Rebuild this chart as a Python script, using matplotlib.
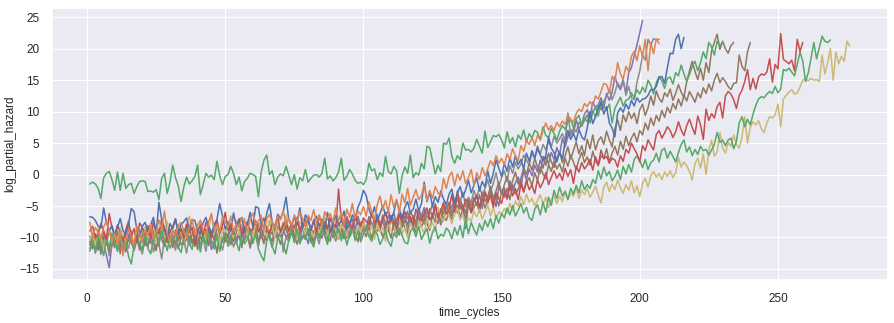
import numpy as np
import matplotlib
matplotlib.use('Agg')
import matplotlib.pyplot as plt
import seaborn as sns

# log partial hazard per engine, one value per time cycle (starting at cycle 1)
blue = [
    -6.7, -6.8, -7.3, -8.2, -8.5, -5.3, -7.6, -8.9, -8.1, -9.6,
    -8.4, -7.0, -8.9, -9.6, -7.9, -5.4, -5.9, -8.7, -9.8, -8.2,
    -7.6, -9.1, -8.0, -6.8, -9.4, -4.4, -7.2, -8.5, -9.9, -7.8,
    -8.6, -7.1, -9.3, -8.0, -7.5, -6.9, -8.8, -7.2, -7.3, -8.9,
    -9.5, -7.7, -6.8, -8.3, -9.4, -8.0, -7.1, -4.6, -6.6, -8.7,
    -7.5, -9.0, -6.1, -8.2, -7.4, -6.8, -9.1, -7.9, -6.0, -8.4,
    -5.1, -5.3, -7.8, -8.6, -6.2, -4.6, -7.6, -8.4, -6.3, -7.0,
    -5.9, -3.6, -7.2, -8.1, -6.9, -7.7, -5.3, -8.5, -6.4, -7.3,
    -8.9, -7.5, -6.6, -8.2, -7.1, -8.8, -6.0, -9.2, -7.7, -6.5,
    -8.0, -7.4, -5.8, -8.6, -7.9, -6.4, -7.1, -5.2, -4.2, -2.5,
    -3.3, -5.5, -6.7, -5.1, -7.4, -6.2, -4.9, -6.5, -5.7, -7.3,
    -6.0, -4.1, -5.6, -6.9, -5.2, -4.3, -6.1, -5.5, -3.9, -5.8,
    -4.6, -1.2, -4.3, -2.8, -5.0, -3.5, -4.4, -2.6, -3.9, -4.8,
    -3.1, -2.3, -4.5, -3.0, -1.9, -3.6, -2.4, -0.9, -2.9, -1.7,
    -0.5, -2.6, -1.1, -2.0, 0.6, -1.4, 0.2, 2.3, 1.0, -0.3,
    1.8, 0.5, 2.7, 1.2, 3.0, 1.6, 2.4, 0.9, 3.4, 2.1,
    3.8, 2.6, 4.5, 3.1, 2.2, 3.0, 6.0, 4.2, 3.5, 2.0,
    3.6, 2.5, 5.2, 7.0, 5.6, 6.5, 5.4, 7.2, 6.0, 5.5,
    7.4, 10.0, 8.1, 9.2, 10.5, 11.5, 9.6, 10.8, 8.2, 7.4,
    6.0, 9.8, 10.6, 9.9, 11.2, 10.4, 11.8, 10.9, 12.2, 11.5,
    12.0, 12.1, 12.6, 13.5, 13.5, 14.0, 15.4, 15.6, 14.5, 17.0,
    19.3, 19.2, 21.5, 22.3, 20.0, 21.8,
]

orange = [
    -7.6, -9.8, -8.4, -9.2, -10.1, -8.3, -7.4, -8.9, -10.6, -9.3,
    -11.2, -9.0, -12.9, -10.4, -8.7, -9.9, -11.0, -8.2, -9.6, -10.5,
    -8.8, -9.7, -7.9, -10.3, -9.1, -7.2, -8.6, -5.8, -9.4, -10.8,
    -8.7, -9.9, -8.1, -7.6, -9.0, -10.2, -8.3, -7.1, -9.5, -8.0,
    -7.3, -8.8, -9.6, -7.5, -6.2, -8.7, -7.9, -9.1, -6.8, -7.4,
    -8.5, -6.6, -9.2, -7.8, -8.3, -6.9, -7.5, -9.0, -7.2, -6.1,
    -8.0, -7.4, -6.5, -8.9, -7.1, -6.3, -7.7, -8.4, -6.6, -7.2,
    -5.8, -7.9, -6.9, -8.1, -6.4, -7.5, -5.9, -7.0, -8.2, -6.5,
    -7.3, -5.6, -7.8, -6.4, -8.3, -5.9, -7.1, -6.2, -7.6, -5.3,
    -7.4, -6.0, -8.1, -5.5, -6.8, -4.6, -7.0, -5.8, -6.4, -5.1,
    -6.6, -4.3, -5.9, -7.2, -4.8, -3.4, -5.6, -4.1, -6.0, -3.2,
    -5.2, -3.9, -6.1, -3.1, -4.5, -2.2, -4.9, -3.6, -2.4, -4.0,
    -3.3, -1.6, -4.1, -2.5, -3.8, -1.9, -2.9, -3.5, -0.6, -2.2,
    -0.3, 0.4, -1.8, 0.1, -0.9, 0.6, -1.4, -0.5, 0.8, -1.7,
    0.3, -0.8, 1.1, -0.2, 0.9, 2.2, 1.4, 3.0, 1.8, 2.6,
    1.5, 3.3, 2.4, 4.1, 3.0, 2.2, 4.6, 3.7, 5.4, 4.8,
    5.9, 4.6, 6.3, 5.5, 7.0, 8.2, 7.1, 7.8, 7.0, 8.3,
    7.6, 8.5, 8.0, 9.4, 8.8, 8.3, 9.7, 10.4, 10.0, 11.3,
    10.8, 11.6, 11.0, 12.5, 12.0, 13.2, 14.5, 14.3, 13.0, 15.6,
    14.8, 17.8, 16.0, 15.2, 17.2, 16.4, 18.8, 19.6, 18.1, 20.5,
    18.7, 21.5, 16.5, 21.0, 19.2, 21.6, 20.8,
]

green_high = [
    -1.5, -1.2, -1.5, -2.2, -3.8, -0.5, 0.2, 0.5, -0.8, -2.5,
    0.4, -2.5, 0.2, -2.2, -1.6, -1.4, -3.0, -1.9, -1.1, -1.0,
    -1.1, -2.7, -2.6, -2.8, -2.4, -4.0, -0.6, 0.2, -3.0, -1.2,
    1.5, -0.5, -1.8, -4.3, -2.0, -0.4, -1.5, -1.0, -0.3, 1.5,
    -3.2, -1.6, 0.2, -0.4, -0.1, -0.8, 2.1, -0.2, -1.6, -0.3,
    0.0, 1.3, 0.2, -1.6, -0.4, -2.6, -1.1, -0.6, 0.2, 0.0,
    -0.3, -3.5, 0.4, 2.3, 3.1, 0.0, 0.6, -1.6, -0.4, 0.1,
    -0.2, 1.3, -0.1, -1.6, 0.0, -2.3, -0.5, -1.0, 0.8, -1.2,
    -0.6, -0.1, 0.0, -0.4, 0.2, 2.6, -0.7, -0.2, -1.0, -0.5,
    0.4, 2.6, -0.9, -0.3, 0.8, 0.1, -0.9, -1.4, -1.2, -1.6,
    -0.8, 1.8, 0.6, 0.9, -0.8, 0.3, -0.3, 2.9, 0.5, 0.1,
    1.3, 0.6, -3.0, -0.2, 1.2, 0.2, 3.1, -0.5, 0.3, -0.1,
    1.8, 0.9, 4.5, 4.3, 2.2, 0.1, 1.5, 0.5, 5.0, 4.8,
    5.8, 2.9, 1.8, 3.0, 2.4, 5.0, 3.9, 4.0, 3.6, 4.2,
    5.6, 4.5, 3.4, 6.9, 4.3, 5.2, 6.2, 6.0, 6.4, 5.5,
    4.2, 6.8, 5.0, 5.9, 4.4, 6.3, 5.6, 7.1, 5.2, 6.5,
    5.8, 7.0, 6.7, 5.5, 7.6, 6.2, 5.9, 7.3, 6.5, 5.5,
    6.9, 7.8, 7.2, 8.4, 8.7, 7.5, 8.9, 9.4, 7.7, 8.6,
    9.5, 8.2, 9.9, 10.7, 9.3, 11.6, 10.8, 10.3, 11.2, 8.2,
    10.5, 11.4, 12.3, 10.9, 11.8, 12.0, 13.0, 12.2, 13.5, 12.8,
    13.9, 13.1, 15.0, 14.2, 12.8, 14.6, 15.6, 14.9, 13.7, 15.3,
    15.5, 14.4, 16.2, 15.7, 17.4, 16.0, 14.8, 15.9, 17.2, 18.0,
    16.5, 17.8, 19.5, 18.4, 21.0, 20.3, 19.0, 21.2, 20.5, 21.0,
]

red = [
    -9.0, -8.2, -10.1, -9.4, -7.8, -8.9, -10.3, -6.2, -8.5, -9.7,
    -8.0, -9.3, -10.6, -8.8, -7.4, -9.9, -8.6, -10.8, -7.7, -8.4,
    -9.6, -8.1, -10.0, -7.5, -8.9, -9.4, -7.1, -8.7, -10.2, -9.0,
    -8.3, -7.0, -9.5, -8.6, -10.1, -7.9, -9.2, -8.4, -11.4, -9.1,
    -8.0, -9.7, -7.6, -8.8, -10.0, -8.5, -7.2, -9.3, -8.1, -6.0,
    -8.9, -7.8, -9.4, -8.2, -7.0, -9.6, -8.4, -7.5, -9.0, -8.6,
    -7.3, -9.1, -8.0, -6.9, -8.7, -9.5, -7.8, -8.3, -6.6, -9.2,
    -8.1, -7.4, -9.0, -7.7, -8.5, -6.8, -8.9, -7.6, -8.2, -7.0,
    -8.8, -7.2, -9.3, -6.5, -8.0, -7.5, -8.7, -6.9, -7.8, -8.4,
    -2.3, -7.3, -8.2, -6.7, -7.9, -8.5, -6.4, -7.6, -8.1, -6.9,
    -7.4, -8.0, -6.2, -7.7, -6.8, -8.3, -7.1, -6.0, -7.9, -6.5,
    -7.2, -8.6, -6.4, -7.5, -5.9, -7.0, -6.7, -8.1, -5.5, -6.8,
    -7.4, -6.1, -5.3, -7.2, -6.6, -5.0, -6.9, -5.8, -4.4, -6.3,
    -5.5, -3.1, -5.9, -2.6, -4.8, -5.7, -3.9, -4.6, -6.0, -4.2,
    -3.5, -5.1, -4.0, -2.8, -4.5, -3.3, -5.2, -2.9, -3.8, -4.6,
    -2.6, -3.9, -1.8, -3.4, -2.2, -4.0, -1.5, -2.8, -0.9, -2.4,
    -1.7, -3.0, -0.8, -2.1, -1.2, 0.3, -1.6, -0.4, 0.6, -0.6,
    0.2, -0.9, 1.0, -0.3, 0.8, -1.4, 1.3, 0.4, 1.9, 0.9,
    1.5, 2.4, 0.7, 2.8, 1.6, 3.9, 2.5, 2.9, 1.8, 2.6,
    2.3, 1.2, 3.0, 2.1, 4.0, 3.4, 5.0, 4.1, 3.3, 2.0,
    4.6, 3.8, 5.5, 4.7, 3.9, 6.4, 7.0, 5.8, 6.6, 7.6,
    7.0, 5.9, 6.8, 8.4, 7.1, 6.2, 7.8, 8.8, 7.5, 6.4,
    9.3, 7.9, 5.6, 10.4, 8.6, 9.7, 9.0, 10.8, 11.5, 9.0,
    12.5, 13.2, 12.8, 11.9, 10.5, 12.6, 13.4, 14.8, 16.7, 13.5,
    15.3, 13.6, 15.5, 16.0, 15.8, 16.3, 18.4, 14.7, 17.5, 16.8,
    22.4, 18.3, 18.0, 17.6, 18.2, 16.5, 21.5, 19.6, 21.0,
]

purple = [
    -9.8, -11.4, -10.2, -12.0, -9.6, -11.1, -12.8, -14.8, -11.0, -10.4,
    -9.2, -11.6, -10.0, -12.3, -9.5, -10.8, -11.9, -9.9, -8.8, -10.5,
    -11.3, -9.6, -10.9, -8.9, -11.7, -10.1, -9.3, -11.0, -10.3, -8.7,
    -10.6, -9.4, -11.8, -10.0, -8.6, -9.8, -11.2, -9.1, -10.4, -9.7,
    -11.5, -8.9, -10.2, -9.5, -11.9, -10.6, -8.3, -9.9, -10.8, -9.0,
    -10.1, -8.5, -9.6, -11.0, -9.3, -8.0, -10.4, -9.1, -8.7, -10.0,
    -9.2, -11.3, -8.4, -9.8, -10.5, -8.8, -9.5, -7.9, -10.2, -9.0,
    -8.6, -10.0, -9.3, -7.8, -9.7, -8.9, -10.8, -8.2, -9.4, -11.0,
    -8.7, -9.6, -8.0, -10.1, -8.8, -7.5, -9.3, -8.4, -10.0, -7.9,
    -9.1, -8.3, -7.2, -9.5, -8.0, -7.0, -8.8, -6.6, -8.2, -7.4,
    -8.9, -6.8, -7.7, -8.5, -6.3, -7.9, -7.0, -8.6, -6.5, -7.3,
    -6.1, -7.8, -5.6, -7.0, -6.6, -8.1, -5.9, -6.8, -7.5, -5.4,
    -6.7, -5.2, -7.3, -6.0, -4.8, -6.5, -7.8, -5.5, -6.2, -4.9,
    -6.4, -5.0, -4.3, -6.1, -3.8, -5.3, -8.6, -4.5, -5.8, -3.6,
    -4.9, -3.2, -5.4, -2.7, -4.0, -2.3, -3.5, -5.1, -1.9, -3.0,
    -2.1, -3.7, -1.0, -2.6, -1.3, -0.4, -1.9, 0.6, -0.8, 0.9,
    -0.2, 1.5, 0.4, 2.3, 1.0, 2.9, 1.7, 3.5, 2.4, 4.3,
    3.1, 5.8, 4.4, 6.0, 7.1, 6.4, 8.7, 7.3, 8.0, 9.6,
    10.3, 9.0, 11.5, 10.7, 11.1, 12.2, 10.6, 12.9, 11.8, 13.1,
    15.6, 14.2, 13.5, 14.8, 13.0, 16.2, 17.0, 18.9, 20.6, 22.5,
    24.5,
]

brown_a = [
    -10.6, -11.8, -9.4, -10.9, -12.3, -9.8, -11.1, -8.7, -10.4, -11.6,
    -9.0, -10.7, -12.0, -9.6, -8.5, -10.9, -11.4, -9.2, -10.0, -8.8,
    -11.0, -9.7, -8.4, -10.5, -9.3, -11.3, -7.6, -9.9, -10.8, -8.9,
    -9.6, -11.2, -8.2, -10.1, -9.4, -7.9, -10.6, -8.8, -9.7, -11.0,
    -8.5, -9.8, -10.7, -8.1, -9.3, -10.4, -7.7, -9.0, -8.6, -10.2,
    -9.5, -8.0, -10.6, -9.2, -7.5, -9.9, -8.3, -9.6, -11.5, -8.4,
    -9.0, -7.8, -10.1, -8.7, -9.4, -7.3, -8.9, -10.0, -8.1, -9.3,
    -7.6, -8.8, -9.7, -8.0, -10.3, -7.4, -9.1, -8.5, -7.2, -9.6,
    -8.2, -10.4, -7.9, -8.9, -7.1, -9.5, -8.4, -6.9, -8.7, -9.8,
    -7.7, -8.6, -10.2, -7.3, -8.3, -9.1, -6.8, -8.0, -9.4, -7.5,
    -8.9, -6.7, -8.2, -9.6, -7.0, -8.5, -6.4, -7.7, -9.0, -6.9,
    -8.0, -7.2, -6.1, -8.4, -7.4, -5.8, -7.9, -6.6, -8.3, -5.9,
    -7.0, -6.3, -7.8, -5.4, -6.9, -4.6, -6.5, -7.3, -5.1, -6.0,
    -4.4, -6.6, -5.2, -3.7, -5.5, -4.8, -6.2, -3.9, -5.0, -4.1,
    -3.2, -5.4, -2.8, -4.3, -3.5, -1.9, -3.9, -2.6, -1.2, -3.0,
    -1.6, -0.3, -2.4, -1.0, 0.4, -1.5, -0.6, 1.1, 0.0, 1.8,
    0.7, 2.6, 1.2, 0.2, 2.9, 1.5, 3.4, 2.0, 1.1, 2.7,
    3.6, 1.9, 3.0, 4.4, 2.5, 3.8, 5.2, 3.3, 4.6, 3.0,
    5.6, 4.1, 6.3, 3.9, 5.4, 6.0, 4.8, 6.9, 5.5, 4.4,
    7.3, 8.7, 7.0, 9.5, 8.4, 10.0, 8.9, 9.8, 8.1, 10.3,
    11.2, 9.4, 10.6, 12.5, 11.0, 13.3, 12.1, 11.5, 13.0, 12.4,
    13.6, 11.8, 12.9, 14.3, 13.1, 12.3, 14.8, 16.5, 18.0, 16.4,
    15.1, 16.9, 15.0, 17.8, 16.2, 19.7, 21.0, 22.3, 19.9, 21.2,
    20.0, 19.3, 20.5, 21.0,
]

brown_b = [
    -11.2, -9.5, -12.4, -10.3, -11.7, -9.1, -10.8, -12.2, -9.9, -11.0,
    -10.2, -12.6, -9.7, -11.3, -10.5, -8.9, -11.8, -10.1, -12.0, -9.4,
    -10.7, -11.5, -9.0, -10.9, -12.1, -8.6, -10.3, -11.4, -9.5, -10.0,
    -11.6, -8.8, -10.5, -9.3, -11.1, -10.2, -8.5, -10.8, -9.6, -11.9,
    -9.8, -10.6, -8.7, -11.3, -9.4, -10.0, -12.5, -9.1, -8.4, -10.7,
    -9.6, -11.2, -8.9, -10.3, -9.7, -11.6, -8.6, -10.1, -9.0, -10.9,
    -8.3, -10.4, -9.5, -11.0, -8.8, -9.9, -10.6, -8.2, -9.7, -11.1,
    -9.2, -8.0, -10.5, -9.4, -8.7, -10.8, -9.1, -7.9, -10.2, -8.6,
    -9.7, -11.0, -8.4, -9.3, -10.1, -8.1, -9.8, -10.6, -8.0, -9.2,
    -10.3, -8.5, -9.6, -7.8, -10.0, -8.9, -9.4, -10.7, -7.6, -8.8,
    -9.9, -8.2, -10.4, -7.4, -9.0, -8.6, -9.9, -7.9, -8.7, -10.1,
    -7.5, -8.8, -9.6, -7.2, -8.5, -9.4, -6.8, -8.1, -9.2, -7.0,
    -8.4, -6.9, -7.8, -8.9, -6.4, -7.6, -5.8, -8.0, -6.7, -7.3,
    -5.9, -7.1, -6.2, -4.9, -6.8, -5.4, -7.0, -4.6, -6.1, -5.2,
    -4.4, -6.0, -3.8, -5.3, -4.1, -2.9, -4.7, -3.4, -5.0, -2.7,
    -3.6, -2.2, -4.0, -1.6, -3.1, -2.4, -0.9, -2.7, -1.3, -0.5,
    -1.8, 0.3, -0.9, 1.2, 0.1, -0.7, 1.6, 0.5, 2.2, 0.9,
    1.7, 0.4, 2.6, 1.3, 3.1, 2.0, 0.8, 2.4, 3.5, 1.9,
    2.8, 1.5, 3.7, 2.2, 1.4, 3.0, 2.6, 4.1, 2.0, 3.4,
    4.5, 3.1, 5.3, 4.0, 6.1, 4.6, 5.8, 6.6, 5.2, 7.0,
    6.3, 8.2, 7.1, 9.0, 7.8, 9.4, 8.5, 10.2, 9.1, 10.7,
    9.8, 11.3, 10.4, 12.0, 10.9, 12.6, 11.7, 13.2, 12.4, 11.5,
    13.0, 12.2, 13.8, 12.9, 14.4, 13.3, 15.0, 16.1, 14.6, 15.4,
    14.8, 14.0, 13.5, 14.5, 14.6, 19.0, 17.2, 16.5, 19.5, 21.0,
]

gray = [
    -12.2, -10.8, -11.6, -9.9, -12.7, -11.0, -10.1, -12.9, -11.4, -9.8,
    -11.9, -10.5, -12.4, -10.9, -11.7, -9.6, -12.1, -10.4, -11.3, -12.6,
    -10.0, -11.5, -9.7, -12.3, -10.8, -11.1, -13.4, -10.2, -9.9, -11.7,
    -10.6, -12.0, -9.4, -11.2, -10.3, -12.5, -9.8, -11.0, -10.5, -9.2,
    -11.4, -10.1, -12.2, -9.5, -10.9, -11.8, -9.3, -10.6, -12.0, -9.9,
    -10.8, -9.6, -11.5, -10.2, -9.1, -11.0, -10.4, -8.9, -11.7, -10.0,
    -9.5, -11.3, -9.2, -10.7, -8.8, -10.1, -11.6, -9.4, -10.3, -8.6,
    -12.3, -9.9, -10.6, -8.7, -9.8, -11.1, -9.0, -10.2, -8.5, -9.6,
    -10.8, -8.9, -9.7, -11.0, -8.4, -9.5, -10.4, -8.1, -9.3, -10.6,
    -8.7, -9.8, -8.2, -10.1, -9.0, -7.8, -9.4, -8.6, -10.3, -7.9,
    -9.1, -8.4, -7.6, -9.7, -8.0, -8.9, -7.3, -9.2, -8.3, -7.0,
    -8.6, -9.5, -7.4, -8.2, -6.9, -8.8, -7.7, -6.5, -8.4, -7.2,
    -6.3, -7.9, -5.8, -7.0, -6.6, -4.9, -6.8, -5.5, -7.2, -5.0,
    -4.6, -6.4, -3.9, -5.7, -4.2, -2.8, -5.1, -3.6, -4.5, -2.5,
    -3.8, -1.9, -3.3, -2.2, -0.8, -2.7, -1.4, 0.3, -1.8, -0.5,
    0.6, -1.1, 1.4, 0.2, 2.0, 0.9, 1.7, 3.1, 2.3, 1.5,
    3.4, 2.6, 4.0, 3.2, 4.8, 3.9, 5.3, 4.4, 6.1, 5.0,
    5.7, 6.5, 5.4, 9.8, 6.2, 7.4, 6.8, 8.3, 7.7, 9.0,
    8.4, 9.6, 10.2, 9.1, 11.0, 10.3, 11.7, 12.4, 13.5, 11.9,
    13.0, 14.6, 13.8, 15.2, 12.6, 14.0, 12.2, 11.9, 14.7, 16.4,
    19.0, 18.2, 21.5, 20.6, 21.6, 21.4, 21.5,
]

yellow = [
    -10.5, -9.2, -11.3, -8.6, -10.0, -11.8, -9.5, -8.9, -10.7, -9.3,
    -11.1, -8.4, -9.8, -10.6, -8.0, -9.4, -11.5, -8.8, -10.2, -9.0,
    -8.3, -10.1, -9.6, -7.7, -11.0, -9.1, -8.5, -10.4, -7.4, -9.7,
    -8.9, -10.3, -7.9, -9.2, -10.8, -8.1, -6.6, -9.5, -8.4, -10.0,
    -7.2, -9.0, -10.5, -8.6, -6.5, -9.3, -7.8, -11.2, -8.7, -9.4,
    -7.6, -8.9, -10.1, -7.3, -9.6, -8.2, -6.9, -9.8, -8.5, -10.2,
    -7.8, -9.1, -6.7, -8.8, -9.9, -7.4, -8.3, -10.0, -7.1, -9.4,
    -8.6, -6.4, -9.2, -7.9, -8.7, -10.4, -7.5, -8.2, -9.5, -7.0,
    -8.9, -10.0, -7.7, -9.3, -8.0, -6.8, -9.6, -8.4, -7.3, -9.0,
    -10.2, -7.9, -8.6, -9.8, -7.4, -8.8, -10.5, -8.1, -9.2, -7.6,
    -8.7, -9.9, -8.0, -10.3, -7.8, -9.1, -8.4, -10.6, -7.5, -8.9,
    -9.6, -8.2, -7.0, -9.4, -8.5, -10.1, -7.7, -8.8, -9.7, -7.3,
    -8.3, -9.5, -6.9, -8.6, -7.6, -9.0, -5.2, -6.8, -7.4, -5.6,
    -6.5, -7.8, -6.1, -5.3, -7.2, -6.4, -8.0, -6.9, -7.4, -5.8,
    -6.7, -5.5, -7.1, -6.0, -4.8, -6.6, -5.2, -7.0, -5.9, -6.3,
    -5.4, -6.1, -4.6, -5.8, -4.2, -5.0, -3.5, -4.8, -3.1, -4.4,
    -3.8, -5.0, -4.1, -3.2, -4.7, -3.6, -5.2, -4.0, -3.3, -4.6,
    -3.4, -4.3, -2.6, -3.9, -2.9, -3.5, -2.1, -3.8, -2.5, -3.2,
    -2.2, -3.6, -2.8, -1.9, -3.3, -4.5, -2.0, -1.2, -2.7, -1.5,
    -2.4, -0.9, -2.1, -3.0, -1.6, -2.5, -1.0, -2.9, -1.8, -3.5,
    -1.4, -0.6, -2.0, -0.2, 0.5, -0.4, 0.2, -0.8, 0.4, -0.3,
    0.6, -0.5, 0.3, 2.7, 1.2, 2.0, 1.4, 0.5, -0.9, 1.8,
    2.6, 1.0, 3.3, 0.0, 3.8, 5.5, 2.9, 3.6, 6.7, 4.2,
    3.4, 5.1, 4.5, 6.3, 4.8, 4.2, 6.0, 9.2, 5.0, 7.5,
    8.4, 7.9, 8.6, 7.3, 6.7, 8.2, 9.2, 9.0, 9.5, 11.2,
    7.6, 12.0, 12.6, 13.1, 13.5, 12.8, 13.0, 13.9, 15.0, 15.2,
    14.9, 15.3, 15.0, 15.1, 14.8, 19.0, 16.0, 17.8, 20.0, 15.0,
    19.5, 17.6, 18.8, 18.0, 21.2, 20.4,
]

green_low = [
    -11.8, -10.4, -12.5, -9.7, -11.1, -12.9, -10.0, -11.6, -9.3, -10.8,
    -12.2, -9.9, -11.4, -10.6, -13.0, -14.2, -11.3, -9.6, -10.9, -12.0,
    -9.2, -11.7, -12.6, -10.3, -9.5, -11.0, -8.8, -10.5, -12.1, -9.7,
    -10.9, -9.0, -11.5, -12.4, -10.2, -8.7, -10.8, -11.9, -9.4, -10.6,
    -12.3, -9.8, -11.1, -8.9, -10.4, -11.7, -9.6, -12.2, -10.1, -9.3,
    -11.4, -10.0, -8.6, -10.7, -12.1, -9.4, -11.0, -10.3, -8.8, -10.9,
    -9.5, -11.8, -12.9, -13.7, -10.6, -9.2, -11.4, -12.6, -10.0, -9.6,
    -11.2, -12.6, -10.4, -9.1, -10.8, -8.6, -11.0, -9.7, -10.3, -8.9,
    -10.6, -11.5, -9.2, -10.1, -8.5, -9.8, -11.1, -8.7, -10.0, -9.4,
    -8.6, -10.5, -9.0, -11.2, -9.6, -8.3, -10.4, -9.1, -10.7, -9.5,
    -8.4, -9.8, -10.6, -8.8, -9.5, -11.1, -10.2, -9.0, -10.6, -11.4,
    -9.3, -10.0, -8.5, -9.7, -10.8, -11.0, -9.1, -8.4, -9.9, -8.2,
    -10.3, -9.4, -8.6, -10.9, -9.2, -8.3, -10.2, -9.5, -9.8, -8.5,
    -9.0, -10.2, -8.4, -9.6, -8.1, -10.0, -7.0, -9.4, -7.6, -8.7,
    -9.6, -7.8, -8.9, -7.3, -8.3, -7.0, -8.6, -6.5, -7.7, -6.2,
    -6.9, -5.3, -6.4, -4.9, -6.6, -5.7, -4.6, -6.1, -5.2, -6.8,
    -7.3, -5.5, -4.8, -6.4, -4.4, -6.0, -3.6, -4.9, -2.5, -3.8,
    -2.0, -3.4, -2.7, -4.0, -2.2, -3.1, -1.7, -2.9, -1.0, -2.4,
    -1.6, -2.2, -0.8, -1.4, 0.6, -0.7, 1.2, -0.2, 0.5, -1.0,
    -0.3, 0.7, -0.8, 1.3, 0.1, 1.6, 0.4, 2.4, 3.0, 2.2,
    1.1, 2.4, 0.8, 1.9, 2.3, 3.4, 2.0, 3.9, 4.2, 2.6,
    3.7, 2.9, 2.0, 3.5, 4.8, 5.5, 3.6, 4.4, 3.0, 4.0,
    3.2, 4.5, 3.8, 4.0, 3.1, 3.9, 4.8, 6.7, 5.1, 5.5,
    4.6, 5.5, 5.8, 4.1, 5.3, 8.2, 9.2, 7.6, 8.8, 7.9,
    9.6, 11.0, 12.0, 12.4, 12.2, 12.8, 13.2, 12.9, 14.0, 13.0,
    13.6, 16.7, 16.5, 16.9, 16.3, 15.7, 17.5, 19.5, 18.0, 14.8,
    16.2, 18.5, 21.0, 18.4, 20.2, 22.0, 21.2, 21.0, 21.4,
]

# drawing order (back to front) and seaborn "deep" colours
series = [purple, gray, brown_b, brown_a, yellow, green_low, red, green_high, blue, orange]
colors = ['#8172B3', '#8C8C8C', '#937860', '#937860', '#CCB974',
          '#55A868', '#C44E52', '#55A868', '#4C72B0', '#DD8452']

sns.set_theme(style='darkgrid')
plt.rcParams['font.family'] = ['Liberation Sans', 'DejaVu Sans']

fig, ax = plt.subplots(figsize=(8.94, 3.23), dpi=100)
for vals, color in zip(series, colors):
    cycles = np.arange(1, len(vals) + 1)
    ax.plot(cycles, vals, color=color, lw=1.1)

ax.grid(True, color='white', lw=0.8)
ax.set_xlabel('time_cycles', fontsize=8.5, color='.15', labelpad=2)
ax.set_ylabel('log_partial_hazard', fontsize=8.5, color='.15', labelpad=2)
ax.tick_params(labelsize=8.5, colors='.15', pad=3)
ax.set_xticks([0, 50, 100, 150, 200, 250])
ax.set_yticks([-15, -10, -5, 0, 5, 10, 15, 20, 25])

fig.subplots_adjust(left=0.058, right=0.993, top=0.975, bottom=0.133)
fig.savefig('out.png', dpi=100)
